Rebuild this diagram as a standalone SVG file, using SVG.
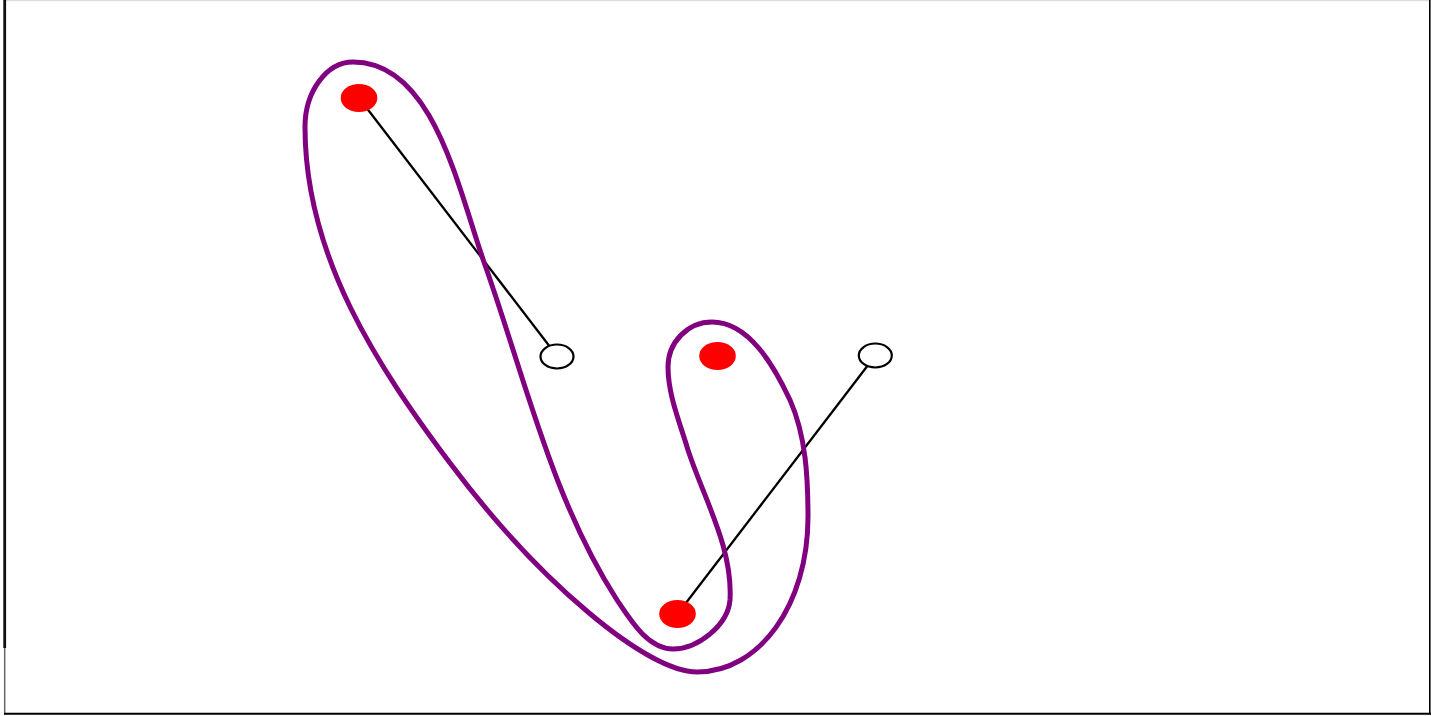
<svg xmlns="http://www.w3.org/2000/svg" width="1431" height="716" viewBox="0 0 1431 716">
<style>
.edge{stroke:#000;stroke-width:2.3;fill:none}
.hull{stroke:#800080;stroke-width:5;fill:none}
.filled{fill:#ff0000;stroke:none}
.open{fill:#fff;stroke:#000;stroke-width:2.2}
</style>
<rect x="0" y="0" width="1431" height="716" fill="#fff"/>
<g id="frame">
<line x1="5" y1="0.5" x2="1431" y2="0.5" stroke="#dddddd" stroke-width="1.5"/>
<line x1="4.7" y1="0" x2="4.7" y2="648" stroke="#111" stroke-width="2.8"/>
<line x1="4.7" y1="648" x2="4.7" y2="714.5" stroke="#666" stroke-width="1.5"/>
<line x1="1429.8" y1="0" x2="1429.8" y2="714.5" stroke="#000" stroke-width="1.6"/>
<line x1="4" y1="713.7" x2="1431" y2="713.7" stroke="#000" stroke-width="2"/>
</g>
<g id="connectors">
<line class="edge" x1="359" y1="98" x2="557" y2="356"/>
<line class="edge" x1="677.5" y1="614" x2="875" y2="356"/>
</g>
<g id="hull">
<path class="hull" d="M353,62 C434,62 458,189 485,265 C525,378 552,499 617,600 C631,621 648,649 673,649 C698,649 728,625 730,600 C733,548 704,499 688,450 C680,423 668,395 668,367 C668,342 688,322 712,322 C749,322 774,366 790,400 C806,436 808,478 808,517 C808,604 760,672 697,672 C647,672 540,583 450,463 C378,367 305,257 305,127 C305,91 327,62 353,62 Z"/>
</g>
<g id="n1"><ellipse class="filled" cx="359" cy="98" rx="18.3" ry="14"/></g>
<g id="n2"><ellipse class="filled" cx="717.5" cy="356" rx="18.3" ry="14"/></g>
<g id="n3"><ellipse class="filled" cx="677.5" cy="614" rx="18.3" ry="14"/></g>
<g id="n4"><ellipse class="open" cx="557" cy="356.5" rx="16.5" ry="12"/></g>
<g id="n5"><ellipse class="open" cx="875.3" cy="355.5" rx="16.5" ry="12"/></g>
</svg>
